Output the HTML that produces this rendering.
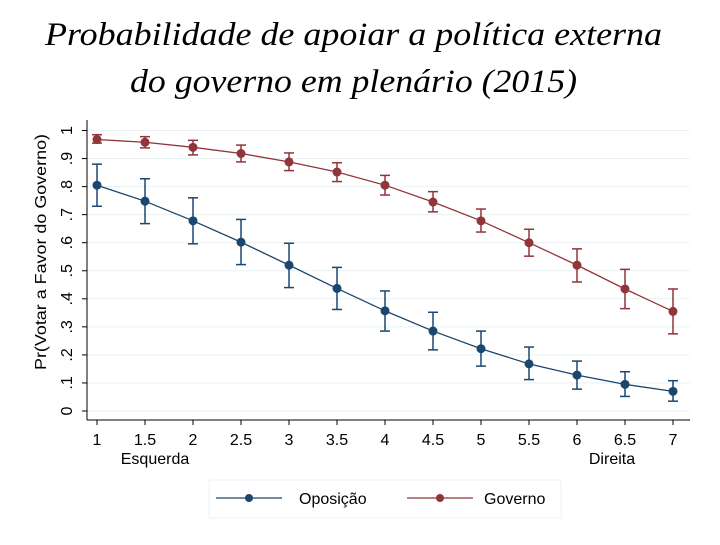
<!DOCTYPE html>
<html><head><meta charset="utf-8"><style>
body{margin:0;background:#fff;width:720px;height:540px;overflow:hidden}
</style></head><body>
<svg width="720" height="540" font-family="Liberation Sans, sans-serif">
<text x="45" y="45" font-family="Liberation Serif, serif" font-style="italic" font-size="33" textLength="617" lengthAdjust="spacingAndGlyphs">Probabilidade de apoiar a política externa</text>
<text x="130" y="92" font-family="Liberation Serif, serif" font-style="italic" font-size="33" textLength="447" lengthAdjust="spacingAndGlyphs">do governo em plenário (2015)</text>
<g id="grid"></g><g id="axes"></g><g id="marks"></g>
<text transform="translate(46,252) rotate(-90)" text-anchor="middle" font-size="16" textLength="236" lengthAdjust="spacingAndGlyphs">Pr(Votar a Favor do Governo)</text>
<text x="155" y="464" text-anchor="middle" font-size="16">Esquerda</text>
<text x="612" y="464" text-anchor="middle" font-size="16">Direita</text>
<rect x="209" y="480" width="352" height="38" fill="#fff" stroke="#eef0f3"/>
<g>
<line x1="216" y1="498" x2="282" y2="498" stroke="#1a476f" stroke-width="1.3"/><circle cx="249" cy="498" r="4" fill="#1a476f"/>
<text x="299" y="504" font-size="16">Oposição</text></g>
<g>
<line x1="407" y1="498" x2="473" y2="498" stroke="#90353b" stroke-width="1.3"/><circle cx="440" cy="498" r="4" fill="#90353b"/>
<text x="484" y="504" font-size="16">Governo</text></g>
</svg>
<script>
const xs=[1,1.5,2,2.5,3,3.5,4,4.5,5,5.5,6,6.5,7];
const oppMean=[.805,.748,.678,.602,.52,.437,.357,.285,.222,.168,.128,.095,.07];
const oppLo=[.73,.668,.596,.522,.44,.362,.285,.218,.16,.112,.078,.052,.035];
const oppHi=[.88,.828,.76,.683,.598,.512,.428,.352,.285,.228,.178,.14,.108];
const govMean=[.968,.958,.94,.918,.888,.852,.805,.745,.678,.6,.52,.435,.355];
const govLo=[.955,.938,.913,.888,.857,.818,.77,.71,.638,.552,.46,.365,.275];
const govHi=[.985,.978,.965,.948,.92,.885,.84,.782,.72,.648,.578,.505,.435];
const yTicks=[0,.1,.2,.3,.4,.5,.6,.7,.8,.9,1];
const yTickLabels=["0",".1",".2",".3",".4",".5",".6",".7",".8",".9","1"];
const xTicks=[1,1.5,2,2.5,3,3.5,4,4.5,5,5.5,6,6.5,7];
const NS="http://www.w3.org/2000/svg";
const X=v=>97+(v-1)*96, Y=v=>411-v*280.5;
function mk(t,a,p){const e=document.createElementNS(NS,t);for(const k in a)e.setAttribute(k,a[k]);p.appendChild(e);return e;}
const grid=document.getElementById('grid'),axes=document.getElementById('axes'),marks=document.getElementById('marks');
yTicks.forEach((v,i)=>{
 const g=mk('line',{x1:87,x2:690,y1:Y(v),y2:Y(v),stroke:'#eaf2f3','stroke-width':1},grid);
 
 
 mk('line',{x1:82,x2:87,y1:Y(v),y2:Y(v),stroke:'#000'},axes);
 const t=mk('text',{transform:`translate(72,${Y(v)}) rotate(-90)`,'text-anchor':'middle','font-size':16},axes);
 t.textContent=yTickLabels[i];
 
 
});
xTicks.forEach(v=>{
 mk('line',{x1:X(v),x2:X(v),y1:420,y2:425,stroke:'#000'},axes);
 const t=mk('text',{x:X(v),y:445,'text-anchor':'middle','font-size':16},axes);
 t.textContent=String(v);
 
 
});
const ya=mk('line',{x1:87,x2:87,y1:120,y2:420,stroke:'#000'},axes);


const xa=mk('line',{x1:87,x2:690,y1:420,y2:420,stroke:'#000'},axes);


function series(m,lo,hi,c,name){
 const p=mk('polyline',{points:xs.map((x,i)=>X(x)+','+Y(m[i])).join(' '),fill:'none',stroke:c,'stroke-width':1.3},marks);
 
 
 xs.forEach((x,i)=>{
  const g=mk('g',{stroke:c,'stroke-width':1.5},marks);
  
  
  mk('line',{x1:X(x),x2:X(x),y1:Y(lo[i]),y2:Y(hi[i])},g);
  mk('line',{x1:X(x)-5,x2:X(x)+5,y1:Y(lo[i]),y2:Y(lo[i])},g);
  mk('line',{x1:X(x)-5,x2:X(x)+5,y1:Y(hi[i]),y2:Y(hi[i])},g);
  const d=mk('circle',{cx:X(x),cy:Y(m[i]),r:4.5,fill:c},marks);
  
  
 });
}
series(govMean,govLo,govHi,'#90353b','governo');
series(oppMean,oppLo,oppHi,'#1a476f','oposicao');
</script>
</body></html>
